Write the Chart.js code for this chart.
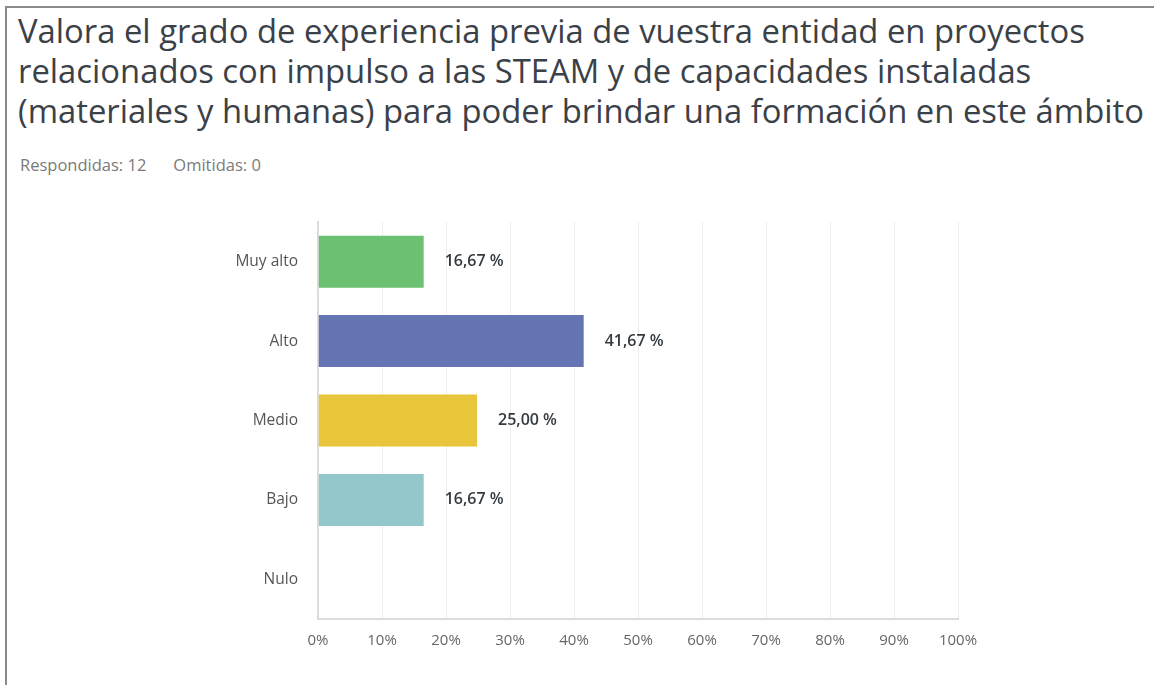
<!DOCTYPE html>
<html>
<head>
<meta charset="utf-8">
<script src="https://cdn.jsdelivr.net/npm/chart.js@4/dist/chart.umd.min.js"></script>
<style>
  html, body { margin: 0; padding: 0; background: #fff; }
  body { width: 1154px; height: 685px; position: relative; overflow: hidden; font-family: "Open Sans", sans-serif; }
  #frame { position: absolute; left: 5px; top: 6px; right: -10px; bottom: -10px; border-top: 2px solid #8a8a8a; border-left: 2px solid #8a8a8a; }
  #title { position: absolute; left: 18px; top: 11px; font-size: 32.8px; line-height: 40px; color: #3b4148; white-space: nowrap; }
  #meta { position: absolute; left: 20px; top: 153px; font-size: 16.5px; color: #7a7a7a; }
  #meta span + span { margin-left: 27px; }
  #wrap { position: absolute; left: 0; top: 200px; width: 1154px; height: 485px; }
  canvas { display: block; }
</style>
</head>
<body>
<div id="frame"></div>
<div id="title">Valora el grado de experiencia previa de vuestra entidad en proyectos<br>relacionados con impulso a las STEAM y de capacidades instaladas<br>(materiales y humanas) para poder brindar una formación en este ámbito</div>
<div id="meta"><span>Respondidas: 12</span><span>Omitidas: 0</span></div>
<div id="wrap"><canvas id="chart" width="1154" height="485"></canvas></div>
<script>
const categories = ["Muy alto", "Alto", "Medio", "Bajo", "Nulo"];
const percents = [16.67, 41.67, 25.00, 16.67, 0];
const barColors = ["#6bc072", "#6574b2", "#e8c53b", "#93c7cb", "#cccccc"];
const tickValues = [0, 10, 20, 30, 40, 50, 60, 70, 80, 90, 100];

// Value labels to the right of each bar ("16,67 %")
const valueLabels = {
  id: "valueLabels",
  afterDatasetsDraw(chart) {
    const ctx = chart.ctx;
    const meta = chart.getDatasetMeta(0);
    ctx.save();
    ctx.font = "600 16px 'Open Sans', sans-serif";
    ctx.fillStyle = "#333a40";
    ctx.textBaseline = "middle";
    ctx.textAlign = "left";
    meta.data.forEach((bar, i) => {
      if (percents[i] <= 0) return;
      const txt = percents[i].toFixed(2).replace(".", ",") + " %";
      ctx.fillText(txt, bar.x + 20, bar.y);
    });
    ctx.restore();
  }
};

new Chart(document.getElementById("chart"), {
  type: "bar",
  plugins: [valueLabels],
  data: {
    labels: categories,
    datasets: [{
      data: percents,
      backgroundColor: barColors,
      borderColor: "rgba(255,255,255,0.35)",
      borderWidth: 1,
      categoryPercentage: 1,
      barPercentage: 0.68
    }]
  },
  options: {
    indexAxis: "y",
    responsive: false,
    animation: false,
    layout: { padding: { left: 0, right: 196, top: 22, bottom: 0 } },
    plugins: { legend: { display: false }, tooltip: { enabled: false } },
    scales: {
      x: {
        min: 0,
        max: 100,
        afterBuildTicks(scale) { scale.ticks = tickValues.map(v => ({ value: v })); },
        afterFit(scale) {
          scale.height = 66;
          scale.paddingLeft = 0;
          scale.paddingRight = 0;
        },
        grid: { color: "#ececec", lineWidth: 1, drawTicks: false },
        border: { color: "#dcdcdc", width: 2 },
        ticks: {
          padding: 13,
          color: "#666",
          font: { size: 15, family: "'Open Sans', sans-serif" },
          callback: v => v + "%"
        }
      },
      y: {
        afterFit(scale) {
          scale.width = 318;
          scale.paddingTop = 0;
          scale.paddingBottom = 0;
        },
        grid: { display: false, drawTicks: false },
        border: { color: "#dcdcdc", width: 2 },
        ticks: {
          padding: 20,
          color: "#555",
          font: { size: 15.5, family: "'Open Sans', sans-serif" }
        }
      }
    }
  }
});
</script>
</body>
</html>
